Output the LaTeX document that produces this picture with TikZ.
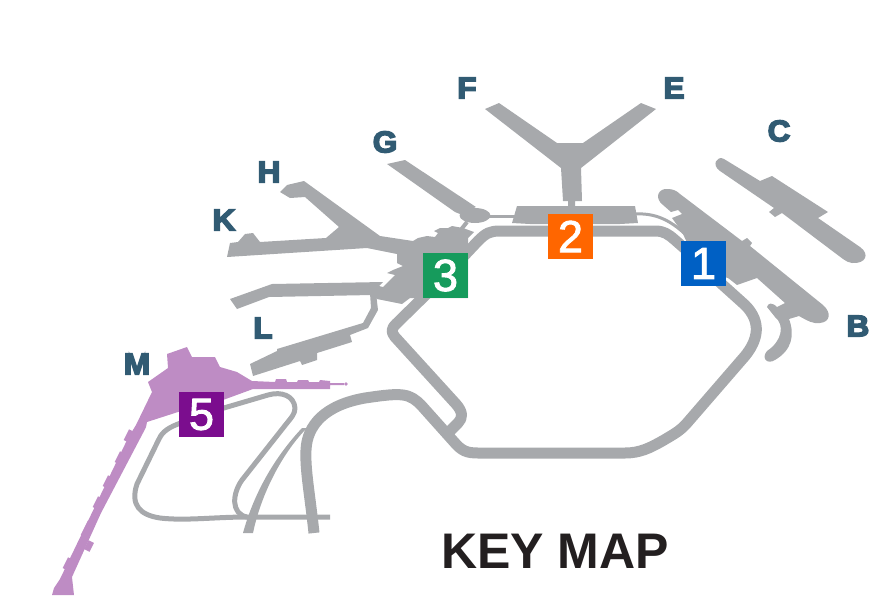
\documentclass[tikz,border=0pt]{standalone}
\usepackage{fontspec}
\setmainfont{Liberation Sans}
\newfontfamily\digitfont[FakeBold=2]{Liberation Sans}
\newfontfamily\letterfont[UprightFont=* Bold,UprightFeatures={FakeBold=5,FakeStretch=1.05}]{Liberation Sans}
\definecolor{rw}{HTML}{A7A9AC}
\definecolor{pur}{HTML}{BE8CC4}
\definecolor{lab}{HTML}{315B73}
\definecolor{tone}{HTML}{0060C4}
\definecolor{ttwo}{HTML}{FF6600}
\definecolor{tthree}{HTML}{169B5C}
\definecolor{tfive}{HTML}{7B0D8E}
\tikzset{
  grayshape/.style={fill=rw,draw=none},
  purshape/.style={fill=pur,draw=none},
  road/.style={draw=rw,line width=#1,line join=round},
  gatelabel/.style={text=lab,inner sep=0pt,font=\letterfont\fontsize{30}{30}\selectfont},
  termbox/.style={minimum size=45pt,inner sep=0pt,text=white,font=\digitfont\fontsize{45}{45}\selectfont},
}
\begin{document}
\begin{tikzpicture}[x=1pt,y=-1pt]
\useasboundingbox (0,0) rectangle (869,595);
% roads
\draw[road=11pt] (446,275) -- (478,241) .. controls (486,233) and (490,231) .. (500,231) -- (655,231) .. controls (664,231) and (668,234) .. (675,240) -- (700,262);
\draw[road=11pt] (446,275) -- (396,324) .. controls (391,329) and (391,332) .. (395,337) -- (456,404) .. controls (463,412) and (463,418) .. (458,423) -- (447,434);
\draw[road=11pt] (314,533) .. controls (310,495) and (305,470) .. (306,450) .. controls (307,425) and (325,405) .. (365,398) .. controls (385,395) and (395,394) .. (403,395) .. controls (411,396) and (416,400) .. (421,405) -- (455,443) .. controls (462,451) and (467,453) .. (478,453) -- (625,453) .. controls (640,453) and (650,448) .. (664,440) .. controls (674,434) and (680,431) .. (687,423) -- (745,356) .. controls (758,340) and (762,322) .. (745,305) -- (715,278);
\fill[grayshape] (243,533) .. controls (252,500) and (270,462) .. (302,428) -- (307,428) .. controls (285,450) and (262,490) .. (253,533) -- cycle;
\draw[road=5pt] (200,415) -- (268,395) .. controls (282,391) and (294,396) .. (295,408) .. controls (295,414) and (291,418) .. (287,423) -- (242,480) .. controls (232,494) and (231,514) .. (247,517) -- (330,517);
\draw[road=5pt] (200,415) -- (178,424) .. controls (165,429) and (161,434) .. (158,441) -- (137,484) .. controls (130,505) and (140,515) .. (160,518) .. controls (185,521) and (215,517) .. (247,517);
\draw[road=3pt] (636,214) .. controls (655,213) and (670,220) .. (685,234);
\draw[road=3pt] (488,216) -- (515,216);
\draw[road=4pt] (467,222) -- (456,236);
% pier C
\fill[grayshape] (724,159) -- (760,181) -- (772,176) -- (828,212) -- (818,218) -- (860,247) .. controls (870,254) and (866,264) .. (852,263) .. controls (849,263) and (846,261) .. (843,259) -- (782,213) -- (775,217) -- (769,212) -- (774,208) -- (720,171) .. controls (711,165) and (717,155) .. (724,159) -- cycle;
% pier B / terminal 1
\fill[grayshape] (668,189) .. controls (673,189) and (677,191) .. (680,194) -- (742,241) -- (747,238) -- (752,243) -- (750,246) -- (823,305) .. controls (832,313) and (830,322) .. (820,323) .. controls (813,324) and (808,321) .. (799,316) -- (789,319) .. controls (795,335) and (792,350) .. (775,360) .. controls (767,365) and (761,358) .. (767,351) .. controls (782,341) and (785,325) .. (775,317) -- (767,307) .. controls (768,303) and (772,302) .. (777,307) -- (785,303) -- (757,278) -- (737,285) -- (728,278) -- (700,270) -- (682,232) -- (672,218) -- (682,214) -- (678,210) -- (671,212) -- (663,205) .. controls (654,198) and (658,188) .. (668,189) -- cycle;
% Y pier (E/F)
\fill[grayshape] (485,109) -- (499,103) -- (557,143) -- (583,143) -- (641,103) -- (656,109) -- (581,168) -- (582,201) -- (575,201) -- (575,207) -- (568,207) -- (568,201) -- (563,201) -- (561,168) -- cycle;
% terminal 2
\fill[grayshape] (517,206) -- (635,206) -- (638,223) -- (620,224) -- (530,224) -- (512,223) -- cycle;
% pier G and oval
\fill[grayshape] (387,164) -- (405,160) -- (476,207) -- (460,214) -- (455,212) -- cycle;
\fill[grayshape] (475,215.5) ellipse [x radius=15.5pt,y radius=7.5pt];
% H, K, terminal 3, long arm
\fill[grayshape] (280,192) -- (287,185) -- (304,181) -- (380,236) -- (413,241) -- (418,238) -- (427,236) -- (435,237) -- (438,233) -- (434,231) -- (440,228) -- (448,228) -- (452,226) -- (463,228) -- (474,232) -- (468,238) -- (468,298) -- (410,298) -- (402,304) -- (377,299) -- (372,295) -- (269,297) -- (237,309) -- (230,299) -- (272,284) -- (383,282) -- (379,286) -- (383,287) -- (395,275) -- (387,273) -- (393,270) -- (403,266) -- (397,263) -- (397,254) -- (367,248) -- (227,257) -- (230,243) -- (238,242) -- (245,234) -- (253,233) -- (260,242) -- (326,238) -- (339,227) -- (305,197) -- (290,198) -- cycle;
% pier L
\fill[grayshape] (370,293) -- (376,293) -- (378,310) -- (368,328) -- (350,335) -- (352,342) -- (317,353) -- (317,360) -- (302,365) -- (300,361) -- (253,376) -- (250,364) -- (277,351) -- (277,349) -- (363,323) -- (371,308) -- cycle;
% terminal 5
\fill[purshape] (148,382) -- (168,368) -- (167,354) -- (187,347) -- (192,357) -- (215,357) -- (220,367) -- (237,372) -- (252,381) -- (275,382) -- (276,379) -- (286,379) -- (287,382) -- (297,382) -- (298,380) -- (308,380) -- (309,382) -- (319,382) -- (320,380) -- (330,381) -- (330,383) -- (344,383) -- (344,385) -- (330,385) -- (330,389) -- (253,389) -- (223,400) -- (178,412) -- (147,422) -- (146,427) -- (143,433) -- (101,513) -- (72,577) -- (74,595) -- (52,595) -- (54,588) -- (60,579) -- (128,438) -- (136,425) -- (152,392) -- cycle;
\fill[purshape] (346,384) circle [radius=1.8pt];
\foreach \bx/\by/\hl in {129/436/6,120/458/6,108/482/6,98/503/6,87/529/8,68/564/6,89/546/5}{
  \pgfmathsetmacro\dx{-0.447*\hl}
  \pgfmathsetmacro\dy{0.894*\hl}
  \fill[purshape] (\bx-\dx-2.7,\by-\dy-1.35) -- (\bx-\dx+2.7,\by-\dy+1.35) -- (\bx+\dx+2.7,\by+\dy+1.35) -- (\bx+\dx-2.7,\by+\dy-1.35) -- cycle;
}
% terminal squares
\node[termbox,fill=tone] (t1) at (703.5,263.5) {1};
\node[termbox,fill=ttwo] (t2) at (570.5,236.5) {2};
\node[termbox,fill=tthree] (t3) at (445.5,275.5) {3};
\node[termbox,fill=tfive] (t5) at (201.5,414.5) {5};
% gate labels
\node[gatelabel] (lF) at (467,88) {F};
\node[gatelabel] (lE) at (674,88) {E};
\node[gatelabel] (lC) at (779,131) {C};
\node[gatelabel] (lG) at (385,142) {G};
\node[gatelabel] (lH) at (269,172) {H};
\node[gatelabel] (lK) at (224,220) {K};
\node[gatelabel] (lB) at (858,326) {B};
\node[gatelabel] (lL) at (263,328) {L};
\node[gatelabel] (lM) at (137,364) {M};
\node[inner sep=0pt,text={rgb,255:red,35;green,31;blue,32},font=\bfseries\fontsize{50}{50}\selectfont] (title) at (555,551) {KEY MAP};
\end{tikzpicture}
\end{document}
